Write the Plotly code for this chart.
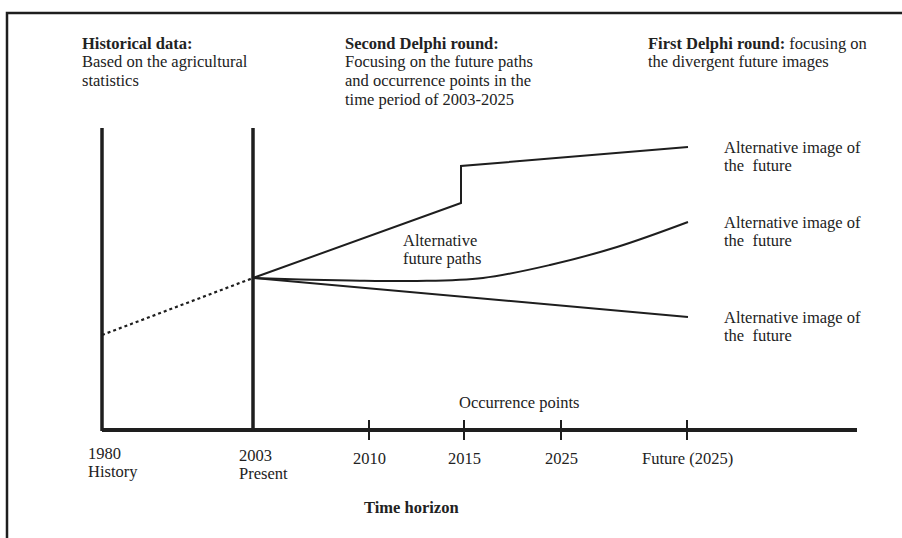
import plotly.graph_objects as go

# diagram coordinates (x to the right, y downward, same scale as the page)
time_labels = ["1980", "2003", "2010", "2015", "2025", "Future (2025)"]
era_labels = ["History", "Present"]
time_pos = [102, 253, 369, 464, 561, 687]

history_x = [102, 253]
history_y = [335, 278]

upper_x = [253, 461, 461, 688]
upper_y = [278, 203, 166, 147]

middle_x = [253, 300, 350, 417, 483, 550, 617, 688]
middle_y = [278, 279.5, 280.5, 281, 278, 265, 247, 222]

lower_x = [253, 688]
lower_y = [278, 317]

image_lines = ["Alternative image of", "the  future"]
image_y = [147, 222, 317]

INK = "#1e1e1e"
TXT = "#222222"
FONT = "Liberation Serif, Times New Roman, serif"
LH = 18.7  # line spacing of the notes

fig = go.Figure()


def seg(x, y, width, dash="solid", shape="linear"):
    fig.add_trace(go.Scatter(x=x, y=y, mode="lines", hoverinfo="skip",
                             line=dict(color=INK, width=width, dash=dash, shape=shape)))


# frame (only top and left edges fall inside the picture)
seg([7, 7, 910], [560, 13, 13], 2.5)

# time axis and the two era boundaries
seg([time_pos[0], 857], [430, 430], 4)
for xp in time_pos[:2]:
    seg([xp, xp], [128, 431], 3.5)
for xp in time_pos[2:]:
    seg([xp, xp], [420, 440], 2)

# history and future paths
seg(history_x, history_y, 2.2, dash="dot")
seg(upper_x, upper_y, 2)
seg(middle_x, middle_y, 2, shape="spline")
seg(lower_x, lower_y, 2)


def note(x, y, lines, xanchor="left", step=LH):
    for i, text in enumerate(lines):
        fig.add_annotation(x=x, y=y + i * step, text=text, showarrow=False, xanchor=xanchor,
                           yanchor="middle", font=dict(family=FONT, size=16.5, color=TXT))


note(80, 43, ["<b>Historical data:</b>", "Based on the agricultural", "statistics"])
note(343, 43, ["<b>Second Delphi round:</b>", "Focusing on the future paths",
               "and occurrence points in the", "time period of 2003-2025"])
note(646, 43, ["<b>First Delphi round:</b> focusing on", "the divergent future images"])
for yy in image_y:
    note(722, yy, image_lines)
note(401, 240, ["Alternative", "future paths"])
note(457, 402, ["Occurrence points"])

note(86, 453, [time_labels[0], era_labels[0]])
note(237, 455, [time_labels[1], era_labels[1]])
for lab, xp in zip(time_labels[2:], time_pos[2:]):
    note(xp, 458, [lab], xanchor="center")
note(411, 507, ["<b>Time horizon</b>"], xanchor="center")

fig.update_layout(
    width=902, height=538, margin=dict(l=0, r=0, t=0, b=0),
    plot_bgcolor="white", paper_bgcolor="white", showlegend=False,
    xaxis=dict(range=[0, 902], visible=False, fixedrange=True),
    yaxis=dict(range=[538, 0], visible=False, fixedrange=True),
)
# drop the default body margin so the drawing sits at the page corner
fig.write_html("out.html", config={"displayModeBar": False},
               post_script="document.body.style.margin='0';")
